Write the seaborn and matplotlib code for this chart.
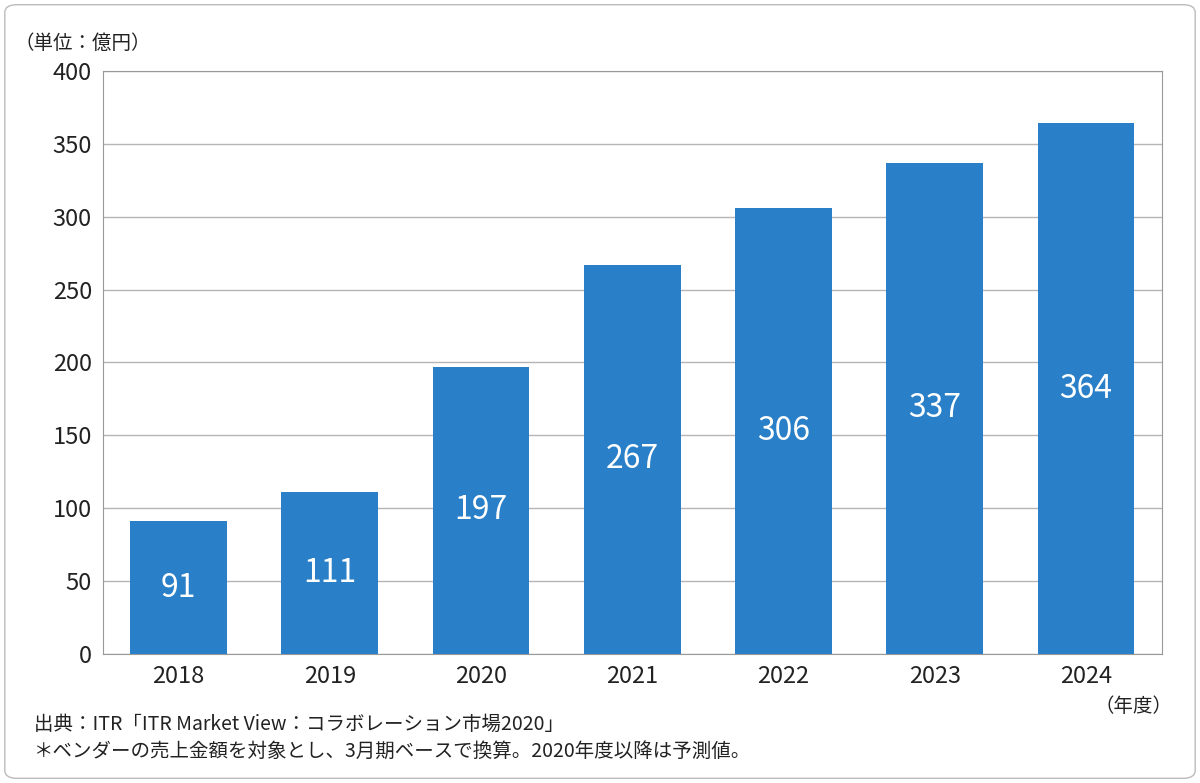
import matplotlib
matplotlib.use("Agg")
import matplotlib.pyplot as plt
import seaborn as sns
import pandas as pd
from matplotlib.patches import FancyBboxPatch

years = ["2018", "2019", "2020", "2021", "2022", "2023", "2024"]
values = [91, 111, 197, 267, 306, 337, 364]
yticks = [0, 50, 100, 150, 200, 250, 300, 350, 400]

plt.rcParams["font.family"] = ["Noto Sans CJK JP"]
df = pd.DataFrame({"year": years, "value": values})

fig = plt.figure(figsize=(12, 7.83), dpi=100)
ax = fig.add_axes([0.0858, 0.1648, 0.8822, 0.7446])
sns.barplot(data=df, x="year", y="value", color="#2a80c8", saturation=1, width=0.64, ax=ax, zorder=3)
ax.set_ylim(0, 400)
ax.set_xlim(-0.5, 6.5)
ax.set_yticks(yticks)
ax.yaxis.grid(True, color="#b5b5b5", linewidth=1, zorder=0)
ax.set_axisbelow(True)
for s in ax.spines.values():
    s.set_color("#999999")
ax.tick_params(axis="both", length=0, labelsize=17, colors="#222222", pad=8)
ax.set_xlabel(""); ax.set_ylabel("")
for i, v in enumerate(values):
    ax.text(i, v / 2, str(v), ha="center", va="center", color="white", fontsize=23, zorder=4)

fig.text(0.012, 0.945, "（単位：億円）", fontsize=14, color="#222222", va="center")
fig.text(0.945, 0.098, "（年度）", fontsize=14, color="#222222", va="center", ha="center")
fig.text(0.028, 0.075, "出典：ITR「ITR Market View：コラボレーション市場2020」", fontsize=14, color="#222222", va="center")
fig.text(0.028, 0.040, "＊ベンダーの売上金額を対象とし、3月期ベースで換算。2020年度以降は予測値。", fontsize=14, color="#222222", va="center")
fig.patches.append(FancyBboxPatch((0.004, 0.006), 0.992, 0.988, boxstyle="round,pad=0,rounding_size=0.01",
                                  transform=fig.transFigure, fill=False, edgecolor="#bbbbbb", linewidth=1))
fig.savefig("out.png", dpi=100)
